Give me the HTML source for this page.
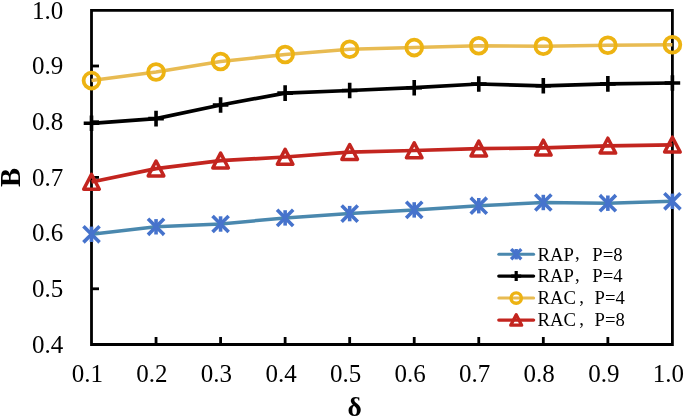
<!DOCTYPE html>
<html><head><meta charset="utf-8"><style>
html,body{margin:0;padding:0;background:#fff;}
body{width:685px;height:418px;overflow:hidden;}
svg{display:block;will-change:transform;}
.t{font-family:"Liberation Serif",serif;font-size:25px;fill:#000;}
.ti{font-family:"Liberation Serif",serif;font-weight:bold;font-size:28.5px;fill:#000;}
.lg{font-family:"Liberation Serif",serif;font-size:18.7px;fill:#000;}
</style></head><body>
<svg width="685" height="418" viewBox="0 0 685 418">
<path d="M91.5,10.3H672.4V344.5H91.5Z" stroke="#000" stroke-width="2.8" fill="none" stroke-linejoin="miter"/>
<path d="M91.5,66.00H99.0" stroke="#000" stroke-width="2.8"/>
<path d="M91.5,121.70H99.0" stroke="#000" stroke-width="2.8"/>
<path d="M91.5,177.40H99.0" stroke="#000" stroke-width="2.8"/>
<path d="M91.5,233.10H99.0" stroke="#000" stroke-width="2.8"/>
<path d="M91.5,288.80H99.0" stroke="#000" stroke-width="2.8"/>
<path d="M156.04,344.5V337.0" stroke="#000" stroke-width="2.8"/>
<path d="M220.59,344.5V337.0" stroke="#000" stroke-width="2.8"/>
<path d="M285.13,344.5V337.0" stroke="#000" stroke-width="2.8"/>
<path d="M349.68,344.5V337.0" stroke="#000" stroke-width="2.8"/>
<path d="M414.22,344.5V337.0" stroke="#000" stroke-width="2.8"/>
<path d="M478.77,344.5V337.0" stroke="#000" stroke-width="2.8"/>
<path d="M543.31,344.5V337.0" stroke="#000" stroke-width="2.8"/>
<path d="M607.86,344.5V337.0" stroke="#000" stroke-width="2.8"/>
<polyline points="91.50,234.30 156.04,226.80 220.59,224.00 285.13,217.90 349.68,213.60 414.22,209.90 478.77,205.70 543.31,202.50 607.86,203.20 672.40,201.30" stroke="#4A88AE" stroke-width="3.5" fill="none" stroke-linejoin="round"/>
<path d="M84.70,227.50L98.30,241.10M98.30,227.50L84.70,241.10" stroke="#4673CC" stroke-width="3.6" stroke-linecap="square" fill="none"/><path d="M91.50,226.60V242.00" stroke="#4673CC" stroke-width="3.6" fill="none"/>
<path d="M149.24,220.00L162.84,233.60M162.84,220.00L149.24,233.60" stroke="#4673CC" stroke-width="3.6" stroke-linecap="square" fill="none"/><path d="M156.04,219.10V234.50" stroke="#4673CC" stroke-width="3.6" fill="none"/>
<path d="M213.79,217.20L227.39,230.80M227.39,217.20L213.79,230.80" stroke="#4673CC" stroke-width="3.6" stroke-linecap="square" fill="none"/><path d="M220.59,216.30V231.70" stroke="#4673CC" stroke-width="3.6" fill="none"/>
<path d="M278.33,211.10L291.93,224.70M291.93,211.10L278.33,224.70" stroke="#4673CC" stroke-width="3.6" stroke-linecap="square" fill="none"/><path d="M285.13,210.20V225.60" stroke="#4673CC" stroke-width="3.6" fill="none"/>
<path d="M342.88,206.80L356.48,220.40M356.48,206.80L342.88,220.40" stroke="#4673CC" stroke-width="3.6" stroke-linecap="square" fill="none"/><path d="M349.68,205.90V221.30" stroke="#4673CC" stroke-width="3.6" fill="none"/>
<path d="M407.42,203.10L421.02,216.70M421.02,203.10L407.42,216.70" stroke="#4673CC" stroke-width="3.6" stroke-linecap="square" fill="none"/><path d="M414.22,202.20V217.60" stroke="#4673CC" stroke-width="3.6" fill="none"/>
<path d="M471.97,198.90L485.57,212.50M485.57,198.90L471.97,212.50" stroke="#4673CC" stroke-width="3.6" stroke-linecap="square" fill="none"/><path d="M478.77,198.00V213.40" stroke="#4673CC" stroke-width="3.6" fill="none"/>
<path d="M536.51,195.70L550.11,209.30M550.11,195.70L536.51,209.30" stroke="#4673CC" stroke-width="3.6" stroke-linecap="square" fill="none"/><path d="M543.31,194.80V210.20" stroke="#4673CC" stroke-width="3.6" fill="none"/>
<path d="M601.06,196.40L614.66,210.00M614.66,196.40L601.06,210.00" stroke="#4673CC" stroke-width="3.6" stroke-linecap="square" fill="none"/><path d="M607.86,195.50V210.90" stroke="#4673CC" stroke-width="3.6" fill="none"/>
<path d="M665.60,194.50L679.20,208.10M679.20,194.50L665.60,208.10" stroke="#4673CC" stroke-width="3.6" stroke-linecap="square" fill="none"/><path d="M672.40,193.60V209.00" stroke="#4673CC" stroke-width="3.6" fill="none"/>
<polyline points="91.50,123.30 156.04,118.60 220.59,105.00 285.13,93.10 349.68,90.50 414.22,87.70 478.77,84.00 543.31,85.80 607.86,83.90 672.40,83.00" stroke="#000" stroke-width="3.7" fill="none" stroke-linejoin="round"/>
<path d="M83.70,123.30L99.30,123.30M91.50,115.50L91.50,131.10" stroke="#000" stroke-width="3.6" fill="none"/>
<path d="M148.24,118.60L163.84,118.60M156.04,110.80L156.04,126.40" stroke="#000" stroke-width="3.6" fill="none"/>
<path d="M212.79,105.00L228.39,105.00M220.59,97.20L220.59,112.80" stroke="#000" stroke-width="3.6" fill="none"/>
<path d="M277.33,93.10L292.93,93.10M285.13,85.30L285.13,100.90" stroke="#000" stroke-width="3.6" fill="none"/>
<path d="M341.88,90.50L357.48,90.50M349.68,82.70L349.68,98.30" stroke="#000" stroke-width="3.6" fill="none"/>
<path d="M406.42,87.70L422.02,87.70M414.22,79.90L414.22,95.50" stroke="#000" stroke-width="3.6" fill="none"/>
<path d="M470.97,84.00L486.57,84.00M478.77,76.20L478.77,91.80" stroke="#000" stroke-width="3.6" fill="none"/>
<path d="M535.51,85.80L551.11,85.80M543.31,78.00L543.31,93.60" stroke="#000" stroke-width="3.6" fill="none"/>
<path d="M600.06,83.90L615.66,83.90M607.86,76.10L607.86,91.70" stroke="#000" stroke-width="3.6" fill="none"/>
<path d="M664.60,83.00L680.20,83.00M672.40,75.20L672.40,90.80" stroke="#000" stroke-width="3.6" fill="none"/>
<polyline points="91.50,80.60 156.04,72.00 220.59,61.50 285.13,54.50 349.68,49.20 414.22,47.60 478.77,45.70 543.31,46.20 607.86,45.20 672.40,44.80" stroke="#E8BB52" stroke-width="3.5" fill="none" stroke-linejoin="round"/>
<circle cx="91.50" cy="80.60" r="7.9" stroke="#EDB312" stroke-width="3.8" fill="none"/>
<circle cx="156.04" cy="72.00" r="7.9" stroke="#EDB312" stroke-width="3.8" fill="none"/>
<circle cx="220.59" cy="61.50" r="7.9" stroke="#EDB312" stroke-width="3.8" fill="none"/>
<circle cx="285.13" cy="54.50" r="7.9" stroke="#EDB312" stroke-width="3.8" fill="none"/>
<circle cx="349.68" cy="49.20" r="7.9" stroke="#EDB312" stroke-width="3.8" fill="none"/>
<circle cx="414.22" cy="47.60" r="7.9" stroke="#EDB312" stroke-width="3.8" fill="none"/>
<circle cx="478.77" cy="45.70" r="7.9" stroke="#EDB312" stroke-width="3.8" fill="none"/>
<circle cx="543.31" cy="46.20" r="7.9" stroke="#EDB312" stroke-width="3.8" fill="none"/>
<circle cx="607.86" cy="45.20" r="7.9" stroke="#EDB312" stroke-width="3.8" fill="none"/>
<circle cx="672.40" cy="44.80" r="7.9" stroke="#EDB312" stroke-width="3.8" fill="none"/>
<polyline points="91.50,182.00 156.04,168.60 220.59,160.70 285.13,157.00 349.68,152.10 414.22,150.50 478.77,148.70 543.31,147.80 607.86,145.80 672.40,144.80" stroke="#C3251F" stroke-width="3.7" fill="none" stroke-linejoin="round"/>
<path d="M91.50,174.40L99.30,189.30L83.70,189.30Z" stroke="#C3251F" stroke-width="3.5" stroke-linejoin="round" fill="none"/>
<path d="M156.04,161.00L163.84,175.90L148.24,175.90Z" stroke="#C3251F" stroke-width="3.5" stroke-linejoin="round" fill="none"/>
<path d="M220.59,153.10L228.39,168.00L212.79,168.00Z" stroke="#C3251F" stroke-width="3.5" stroke-linejoin="round" fill="none"/>
<path d="M285.13,149.40L292.93,164.30L277.33,164.30Z" stroke="#C3251F" stroke-width="3.5" stroke-linejoin="round" fill="none"/>
<path d="M349.68,144.50L357.48,159.40L341.88,159.40Z" stroke="#C3251F" stroke-width="3.5" stroke-linejoin="round" fill="none"/>
<path d="M414.22,142.90L422.02,157.80L406.42,157.80Z" stroke="#C3251F" stroke-width="3.5" stroke-linejoin="round" fill="none"/>
<path d="M478.77,141.10L486.57,156.00L470.97,156.00Z" stroke="#C3251F" stroke-width="3.5" stroke-linejoin="round" fill="none"/>
<path d="M543.31,140.20L551.11,155.10L535.51,155.10Z" stroke="#C3251F" stroke-width="3.5" stroke-linejoin="round" fill="none"/>
<path d="M607.86,138.20L615.66,153.10L600.06,153.10Z" stroke="#C3251F" stroke-width="3.5" stroke-linejoin="round" fill="none"/>
<path d="M672.40,137.20L680.20,152.10L664.60,152.10Z" stroke="#C3251F" stroke-width="3.5" stroke-linejoin="round" fill="none"/>
<text x="63.2" y="18.50" text-anchor="end" class="t">1.0</text>
<text x="63.2" y="74.20" text-anchor="end" class="t">0.9</text>
<text x="63.2" y="129.90" text-anchor="end" class="t">0.8</text>
<text x="63.2" y="185.60" text-anchor="end" class="t">0.7</text>
<text x="63.2" y="241.30" text-anchor="end" class="t">0.6</text>
<text x="63.2" y="297.00" text-anchor="end" class="t">0.5</text>
<text x="63.2" y="352.70" text-anchor="end" class="t">0.4</text>
<text x="87.40" y="382.3" text-anchor="middle" class="t">0.1</text>
<text x="151.94" y="382.3" text-anchor="middle" class="t">0.2</text>
<text x="216.49" y="382.3" text-anchor="middle" class="t">0.3</text>
<text x="281.03" y="382.3" text-anchor="middle" class="t">0.4</text>
<text x="345.58" y="382.3" text-anchor="middle" class="t">0.5</text>
<text x="410.12" y="382.3" text-anchor="middle" class="t">0.6</text>
<text x="474.67" y="382.3" text-anchor="middle" class="t">0.7</text>
<text x="539.21" y="382.3" text-anchor="middle" class="t">0.8</text>
<text x="603.76" y="382.3" text-anchor="middle" class="t">0.9</text>
<text x="668.30" y="382.3" text-anchor="middle" class="t">1.0</text>
<text x="0" y="0" transform="translate(20.3,177.6) rotate(-90)" text-anchor="middle" class="ti">B</text>
<text x="354.7" y="415.8" text-anchor="middle" class="ti" style="font-size:27.5px">δ</text>
<path d="M498.8,254.2H533.6" stroke="#4A88AE" stroke-width="3" stroke-linecap="round"/>
<path d="M512.30,250.30L520.10,258.10M520.10,250.30L512.30,258.10" stroke="#4673CC" stroke-width="3.4" stroke-linecap="square" fill="none"/><path d="M516.20,249.00V259.40" stroke="#4673CC" stroke-width="3.4" fill="none"/>
<text x="537.5" y="260.50" class="lg">RAP<tspan dx="3.3" dy="-1.3">,</tspan></text>
<text x="592.3" y="260.50" class="lg">P=8</text>
<path d="M498.8,276.1H533.6" stroke="#000" stroke-width="3.3" stroke-linecap="round"/>
<path d="M511.20,276.10L521.20,276.10M516.20,271.10L516.20,281.10" stroke="#000" stroke-width="3.2" fill="none"/>
<text x="537.5" y="282.40" class="lg">RAP<tspan dx="3.3" dy="-1.3">,</tspan></text>
<text x="592.3" y="282.40" class="lg">P=4</text>
<path d="M498.8,298.1H533.6" stroke="#E8BB52" stroke-width="3" stroke-linecap="round"/>
<circle cx="516.20" cy="298.10" r="5.2" stroke="#EDB312" stroke-width="3.4" fill="none"/>
<text x="537.5" y="304.40" class="lg">RAC<tspan dx="3.3" dy="-1.3">,</tspan></text>
<text x="594.5" y="304.40" class="lg">P=4</text>
<path d="M498.8,320.1H533.6" stroke="#C3251F" stroke-width="3.3" stroke-linecap="round"/>
<path d="M516.20,314.78L521.66,325.21L510.74,325.21Z" stroke="#C3251F" stroke-width="3.3" stroke-linejoin="round" fill="none"/>
<text x="537.5" y="326.40" class="lg">RAC<tspan dx="3.3" dy="-1.3">,</tspan></text>
<text x="594.5" y="326.40" class="lg">P=8</text>
</svg>
</body></html>
